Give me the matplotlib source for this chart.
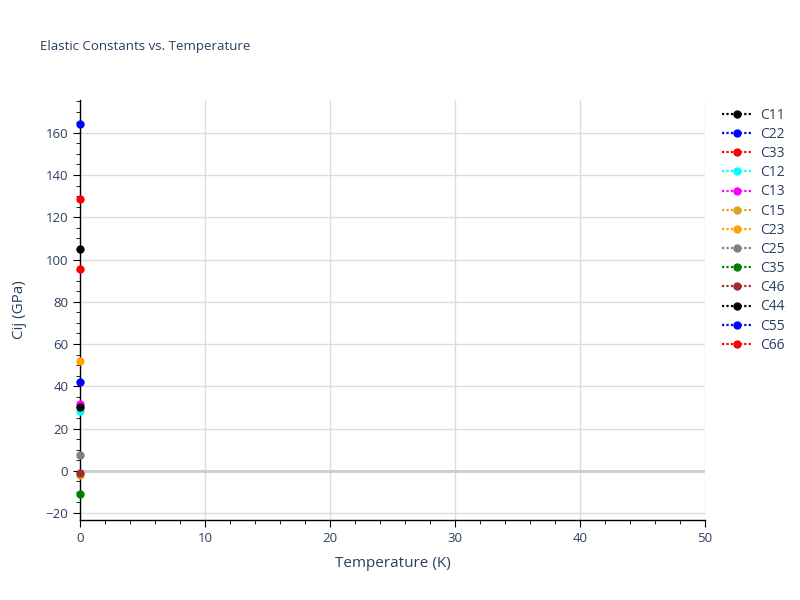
import matplotlib.pyplot as plt
from matplotlib.ticker import MultipleLocator

plt.rcParams['font.family'] = ['Open Sans', 'DejaVu Sans']

# one measurement per constant, at T = 0 K
names = ["C11", "C22", "C33", "C12", "C13", "C15", "C23",
         "C25", "C35", "C46", "C44", "C55", "C66"]
temps = [0.0]
values = {
    "C11": [105.1], "C22": [164.0], "C33": [128.5], "C12": [28.4],
    "C13": [31.4], "C15": [-1.9], "C23": [52.1], "C25": [7.3],
    "C35": [-11.2], "C46": [-0.9], "C44": [30.3], "C55": [42.0],
    "C66": [95.3],
}
colors = ["black", "blue", "red", "cyan", "magenta", "goldenrod", "orange",
          "gray", "green", "brown", "black", "blue", "red"]

text_col = "#2a3f5f"

fig = plt.figure(figsize=(8, 6), dpi=100)
ax = fig.add_axes([0.1, 0.1333, 0.781, 0.7])

for name, c in zip(names, colors):
    ax.plot(temps, values[name], linestyle=(0, (1, 1)), marker="o", color=c,
            markersize=5, linewidth=1.6, label=name, clip_on=False, zorder=3)

ax.set_xlim(0, 50)
ax.set_ylim(-23.3, 175.5)
ax.xaxis.set_major_locator(MultipleLocator(10))
ax.xaxis.set_minor_locator(MultipleLocator(2))
ax.yaxis.set_major_locator(MultipleLocator(20))
ax.yaxis.set_minor_locator(MultipleLocator(5))

ax.grid(True, which="major", color="#dcdcdc", linewidth=1)
ax.axhline(0, color="#cccccc", linewidth=2, zorder=1)
ax.set_axisbelow(True)

for side in ["top", "right"]:
    ax.spines[side].set_visible(False)
for side in ["left", "bottom"]:
    ax.spines[side].set_color("black")
    ax.spines[side].set_linewidth(1)

ax.tick_params(which="major", length=5, color="black", labelcolor=text_col,
               labelsize=9.5)
ax.tick_params(which="minor", length=3, color="black")

ax.set_xlabel("Temperature (K)", color=text_col, fontsize=11, labelpad=8)
ax.set_ylabel("Cij (GPa)", color=text_col, fontsize=11, labelpad=13)

fig.text(0.05, 0.923, "Elastic Constants vs. Temperature", color=text_col,
         fontsize=9.5, va="center")

leg = fig.legend(loc="upper left", bbox_to_anchor=(0.9025, 0.8205),
                 frameon=False, fontsize=10, labelcolor=text_col,
                 handlelength=2.2, labelspacing=0.3, handletextpad=0.55,
                 borderpad=0, borderaxespad=0)

fig.savefig("out.png", dpi=100)
